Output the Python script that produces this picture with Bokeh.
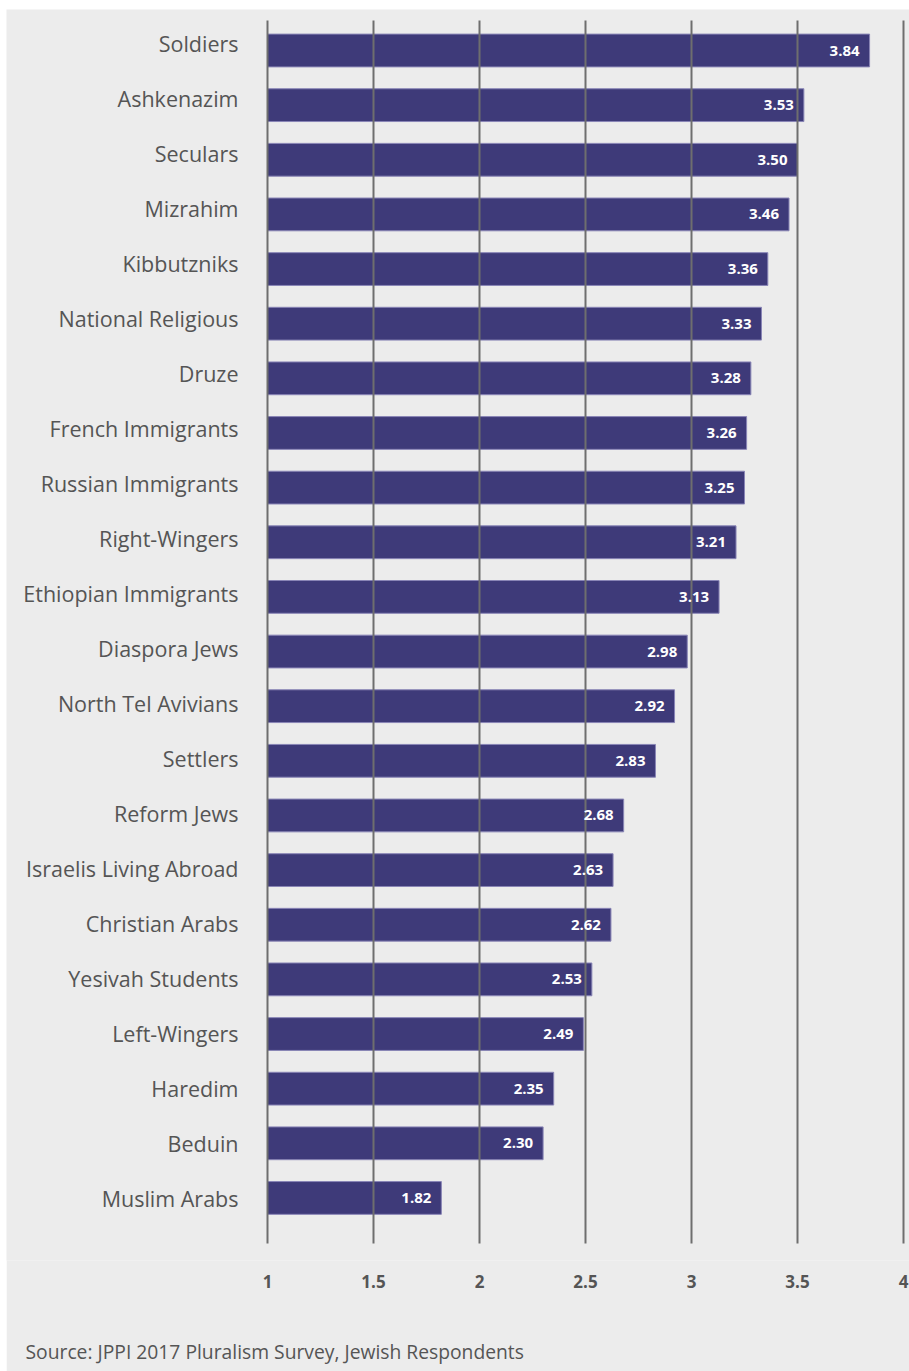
from bokeh.plotting import figure
from bokeh.models import Range1d, ColumnDataSource, FixedTicker, Title, Spacer
from bokeh.layouts import column, row
from bokeh.core.properties import value
from bokeh.embed import file_html
from bokeh.resources import INLINE

categories = ["Soldiers", "Ashkenazim", "Seculars", "Mizrahim", "Kibbutzniks",
              "National Religious", "Druze", "French Immigrants", "Russian Immigrants",
              "Right-Wingers", "Ethiopian Immigrants", "Diaspora Jews", "North Tel Avivians",
              "Settlers", "Reform Jews", "Israelis Living Abroad", "Christian Arabs",
              "Yesivah Students", "Left-Wingers", "Haredim", "Beduin", "Muslim Arabs"]
scores = [3.84, 3.53, 3.50, 3.46, 3.36, 3.33, 3.28, 3.26, 3.25, 3.21, 3.13,
          2.98, 2.92, 2.83, 2.68, 2.63, 2.62, 2.53, 2.49, 2.35, 2.30, 1.82]
ticks = [1, 1.5, 2, 2.5, 3, 3.5, 4]
tick_labels = {1: "1", 1.5: "1.5", 2: "2", 2.5: "2.5", 3: "3", 3.5: "3.5", 4: "4"}
source_note = "Source:  JPPI 2017 Pluralism Survey, Jewish Respondents"

BG = "#ECECEC"
BAR = "#3E3A79"
FONT = "Open Sans"

n = len(categories)
rows = list(range(n))
# category labels in the original sit on a slightly looser pitch than the bars
label_shift = [-7.5 + 0.36 * i for i in rows]
src = ColumnDataSource(dict(
    y=rows, left=[1] * n, right=scores, cat=categories,
    lab=["%.2f" % v for v in scores], dy=label_shift))

W, H = 903, 1362
FRAME_H = 1251
k = 212.0
x_start = 1 - 261 / k
x_end = 4 + 6 / k
row_px = 54.64
top_i = -41 / row_px
bot_i = (FRAME_H - 41) / row_px

p = figure(width=W, height=H, frame_width=W, frame_height=FRAME_H,
           x_range=Range1d(x_start, x_end), y_range=Range1d(bot_i, top_i),
           output_backend="svg", toolbar_location=None,
           min_border_left=0, min_border_right=0, min_border_top=0,
           min_border_bottom=H - FRAME_H,
           background_fill_color=BG, border_fill_color=BG, outline_line_color=None)
p.grid.visible = False
p.yaxis.visible = False

p.hbar(y="y", left="left", right="right", height=0.6, source=src,
       fill_color=BAR, line_color="#8985B6", line_width=1)

g0 = (11 - 41) / row_px
g1 = (1234 - 41) / row_px
p.segment(x0=ticks, x1=ticks, y0=[g0] * len(ticks), y1=[g1] * len(ticks),
          line_color="#6E6E6E", line_width=2)

p.text(x="right", y="y", text="lab", source=src, x_offset=-10,
       text_align="right", text_baseline="middle", text_color="white",
       text_font=value(FONT), text_font_style="bold", text_font_size="15px")

p.text(x="left", y="y", text="cat", source=src, x_offset=-29, y_offset="dy",
       text_align="right", text_baseline="middle", text_color="#555555",
       text_font=value(FONT), text_font_size="21.5px")

ax = p.xaxis[0]
ax.ticker = FixedTicker(ticks=ticks)
ax.major_label_overrides = tick_labels
ax.axis_line_color = None
ax.major_tick_line_color = None
ax.minor_tick_line_color = None
ax.major_tick_out = 0
ax.major_label_standoff = 14
ax.major_label_text_font = FONT
ax.major_label_text_font_style = "bold"
ax.major_label_text_font_size = "17px"
ax.major_label_text_color = "#555555"

p.add_layout(Title(text=source_note, align="left", offset=19, standoff=90,
                   text_font=FONT, text_font_style="normal", text_font_size="19.3px",
                   text_color="#555555"), "below")

layout = column(Spacer(height=9), row(Spacer(width=6), p))
open("out.html", "w").write(file_html(layout, INLINE))
